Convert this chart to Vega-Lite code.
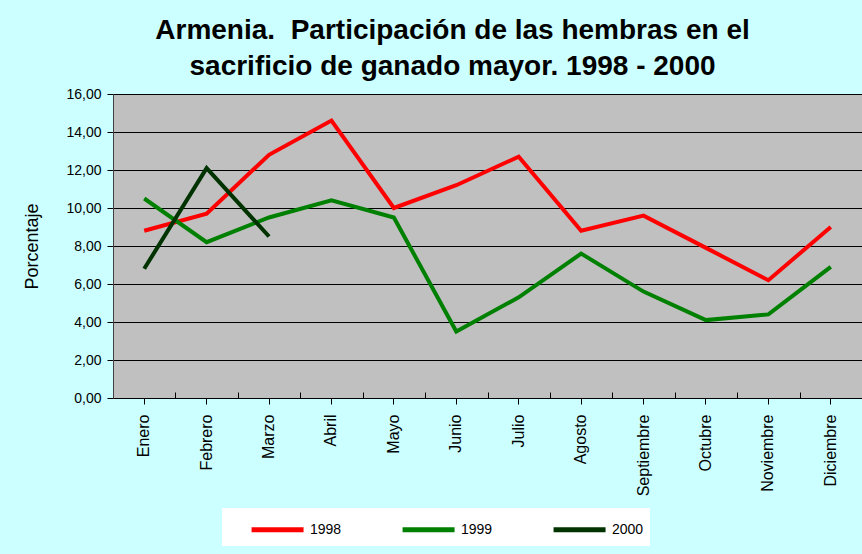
{
  "$schema": "https://vega.github.io/schema/vega-lite/v6.json",
  "width": 749,
  "height": 304,
  "autosize": {"type": "none"},
  "padding": {"left": 113, "top": 94, "right": 0, "bottom": 156},
  "background": "#CCFFFF",
  "title": {
    "text": ["Armenia. \u00a0Participación de las hembras en el", "sacrificio de ganado mayor. 1998 - 2000"],
    "font": "Liberation Sans",
    "fontSize": 28,
    "fontWeight": "bold",
    "color": "#000000",
    "anchor": "middle",
    "frame": "group",
    "dx": -35,
    "offset": 6,
    "lineHeight": 36
  },
  "data": {
    "values": [
      {"mes": "Enero", "anio": "1998", "valor": 8.8},
      {"mes": "Febrero", "anio": "1998", "valor": 9.7},
      {"mes": "Marzo", "anio": "1998", "valor": 12.8},
      {"mes": "Abril", "anio": "1998", "valor": 14.6},
      {"mes": "Mayo", "anio": "1998", "valor": 10.0},
      {"mes": "Junio", "anio": "1998", "valor": 11.2},
      {"mes": "Julio", "anio": "1998", "valor": 12.7},
      {"mes": "Agosto", "anio": "1998", "valor": 8.8},
      {"mes": "Septiembre", "anio": "1998", "valor": 9.6},
      {"mes": "Octubre", "anio": "1998", "valor": 7.9},
      {"mes": "Noviembre", "anio": "1998", "valor": 6.2},
      {"mes": "Diciembre", "anio": "1998", "valor": 9.0},
      {"mes": "Enero", "anio": "1999", "valor": 10.5},
      {"mes": "Febrero", "anio": "1999", "valor": 8.2},
      {"mes": "Marzo", "anio": "1999", "valor": 9.5},
      {"mes": "Abril", "anio": "1999", "valor": 10.4},
      {"mes": "Mayo", "anio": "1999", "valor": 9.5},
      {"mes": "Junio", "anio": "1999", "valor": 3.5},
      {"mes": "Julio", "anio": "1999", "valor": 5.3},
      {"mes": "Agosto", "anio": "1999", "valor": 7.6},
      {"mes": "Septiembre", "anio": "1999", "valor": 5.6},
      {"mes": "Octubre", "anio": "1999", "valor": 4.1},
      {"mes": "Noviembre", "anio": "1999", "valor": 4.4},
      {"mes": "Diciembre", "anio": "1999", "valor": 6.9},
      {"mes": "Enero", "anio": "2000", "valor": 6.8},
      {"mes": "Febrero", "anio": "2000", "valor": 12.1},
      {"mes": "Marzo", "anio": "2000", "valor": 8.5}
    ]
  },
  "encoding": {
    "y": {
      "field": "valor",
      "type": "quantitative",
      "scale": {"domain": [0, 16], "nice": false},
      "axis": {
        "title": "Porcentaje",
        "titleFont": "Liberation Sans",
        "titleFontSize": 18,
        "titleFontWeight": "normal",
        "titleColor": "#000000",
        "titlePadding": 24,
        "values": [0, 2, 4, 6, 8, 10, 12, 14, 16],
        "labelExpr": "replace(format(datum.value, '.2f'), '.', ',')",
        "labelFont": "Liberation Sans",
        "labelFontSize": 14,
        "labelColor": "#000000",
        "labelPadding": 6,
        "tickSize": 6,
        "tickColor": "#000000",
        "domainColor": "#404040",
        "grid": true,
        "gridColor": "#000000",
        "gridOpacity": 1,
        "gridWidth": 1
      }
    }
  },
  "layer": [
    {
      "mark": {"type": "line", "opacity": 0},
      "encoding": {
        "x": {
          "field": "mes",
          "type": "nominal",
          "bandPosition": 0.5,
          "sort": ["Enero", "Febrero", "Marzo", "Abril", "Mayo", "Junio", "Julio", "Agosto", "Septiembre", "Octubre", "Noviembre", "Diciembre"],
          "scale": {"type": "band", "paddingInner": 0, "paddingOuter": 0},
          "axis": {
            "orient": "bottom",
            "title": null,
            "labels": false,
            "domain": false,
            "grid": false,
            "tickBand": "extent",
            "tickSize": -6,
            "tickColor": "#000000"
          }
        }
      }
    },
    {
      "mark": {"type": "line", "strokeWidth": 4, "strokeJoin": "miter"},
      "encoding": {
        "x": {
          "field": "mes",
          "type": "nominal",
          "bandPosition": 0.5,
          "sort": ["Enero", "Febrero", "Marzo", "Abril", "Mayo", "Junio", "Julio", "Agosto", "Septiembre", "Octubre", "Noviembre", "Diciembre"],
          "scale": {"type": "band", "paddingInner": 0, "paddingOuter": 0},
          "axis": {
            "orient": "bottom",
            "title": null,
            "labelAngle": 270,
            "labelAlign": "right",
            "labelBaseline": "middle",
            "labelFont": "Liberation Sans",
            "labelFontSize": 16,
            "labelColor": "#000000",
            "labelPadding": 10,
            "tickSize": 6,
            "tickColor": "#000000",
            "domainColor": "#000000",
            "grid": false
          }
        },
        "color": {
          "field": "anio",
          "type": "nominal",
          "scale": {"domain": ["1998", "1999", "2000"], "range": ["#FF0000", "#008000", "#003300"]},
          "legend": {
            "title": null,
            "orient": "none",
            "legendX": 109,
            "legendY": 414,
            "direction": "horizontal",
            "fillColor": "#FFFFFF",
            "padding": 6,
            "symbolType": "M0.62,0H4.62",
            "symbolStrokeWidth": 5,
            "symbolSize": 676,
            "labelFont": "Liberation Sans",
            "labelFontSize": 14,
            "labelColor": "#000000",
            "labelOffset": 51,
            "columnPadding": 37
          }
        }
      }
    }
  ],
  "resolve": {"axis": {"x": "independent"}},
  "config": {
    "view": {"fill": "#C0C0C0", "stroke": "#808080", "strokeWidth": 1}
  }
}
